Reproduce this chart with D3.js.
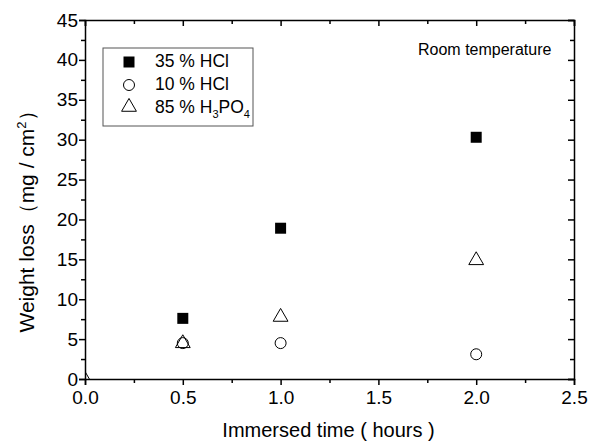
<!DOCTYPE html>
<meta charset="utf-8">
<style>
body { margin: 0; background: #fff; font-family: "Liberation Sans", Arial, sans-serif; }
.axis path, .axis line { stroke: #000; stroke-width: 1.5; fill: none; }
.axis text { font-size: 19px; fill: #000; font-family: "Liberation Sans", Arial, sans-serif; }
</style>
<body>
<svg width="591" height="441"></svg>
<script src="https://d3js.org/d3.v7.min.js"></script>
<script>
// data
var times = [0.5, 1.0, 2.0];
var hcl35 = [7.6, 18.9, 30.3];
var hcl10 = [4.5, 4.5, 3.1];
var h3po4 = [4.6, 7.9, 15.0];
var xTicks = [0, 0.5, 1.0, 1.5, 2.0, 2.5];
var yTicks = [0, 5, 10, 15, 20, 25, 30, 35, 40, 45];

var svg = d3.select("svg"),
    margin = {top: 20, right: 17, bottom: 62, left: 85},
    width = +svg.attr("width") - margin.left - margin.right,
    height = +svg.attr("height") - margin.top - margin.bottom,
    g = svg.append("g").attr("transform", "translate(" + margin.left + "," + margin.top + ")");

var x = d3.scaleLinear().domain([0, 2.5]).range([0, width]);
var y = d3.scaleLinear().domain([0, 45]).range([height, 0]);

svg.append("defs").append("clipPath").attr("id", "clip")
    .append("rect").attr("width", width).attr("height", height);

var minorX = d3.range(0.25, 2.5, 0.5);
var minorY = d3.range(2.5, 45, 5);

// bottom axis (outward ticks)
g.append("g").attr("class", "axis")
    .attr("transform", "translate(0," + height + ")")
    .call(d3.axisBottom(x).tickValues(xTicks).tickFormat(d3.format(".1f")).tickSizeOuter(0).tickSize(6).tickPadding(6));
g.append("g").attr("class", "axis")
    .attr("transform", "translate(0," + height + ")")
    .call(d3.axisBottom(x).tickValues(minorX).tickFormat("").tickSizeOuter(0).tickSize(4))
    .select(".domain").remove();

// left axis
g.append("g").attr("class", "axis")
    .call(d3.axisLeft(y).tickValues(yTicks).tickSizeOuter(0).tickSize(6).tickPadding(1));
g.append("g").attr("class", "axis")
    .call(d3.axisLeft(y).tickValues(minorY).tickFormat("").tickSizeOuter(0).tickSize(4))
    .select(".domain").remove();

// top and right mirror axes, inward ticks
g.append("g").attr("class", "axis")
    .call(d3.axisTop(x).tickValues(xTicks).tickFormat("").tickSizeOuter(0).tickSize(-6));
g.append("g").attr("class", "axis")
    .call(d3.axisTop(x).tickValues(minorX).tickFormat("").tickSizeOuter(0).tickSize(-4))
    .select(".domain").remove();
g.append("g").attr("class", "axis")
    .attr("transform", "translate(" + width + ",0)")
    .call(d3.axisRight(y).tickValues(yTicks).tickFormat("").tickSizeOuter(0).tickSize(-6));
g.append("g").attr("class", "axis")
    .attr("transform", "translate(" + width + ",0)")
    .call(d3.axisRight(y).tickValues(minorY).tickFormat("").tickSizeOuter(0).tickSize(-4))
    .select(".domain").remove();

// markers
var pts = g.append("g").attr("clip-path", "url(#clip)");
var sq = d3.symbol().type(d3.symbolSquare).size(121);
var tri = d3.symbol().type(d3.symbolTriangle).size(95);

// H3PO4 also has a point at the origin (mostly clipped)
pts.selectAll(".tri")
    .data([[0, 0]].concat(times.map(function(t, i) { return [t, h3po4[i]]; })))
    .enter().append("path")
    .attr("d", tri)
    .attr("transform", function(d) { return "translate(" + x(d[0]) + "," + (y(d[1]) + 1) + ")"; })
    .attr("fill", "none").attr("stroke", "#000").attr("stroke-width", 1);

pts.selectAll(".circ")
    .data(times.map(function(t, i) { return [t, hcl10[i]]; }))
    .enter().append("circle")
    .attr("cx", function(d) { return x(d[0]); })
    .attr("cy", function(d) { return y(d[1]); })
    .attr("r", 5.5)
    .attr("fill", "none").attr("stroke", "#000").attr("stroke-width", 1);

pts.selectAll(".sq")
    .data(times.map(function(t, i) { return [t, hcl35[i]]; }))
    .enter().append("path")
    .attr("d", sq)
    .attr("transform", function(d) { return "translate(" + x(d[0]) + "," + y(d[1]) + ")"; })
    .attr("fill", "#000");

// legend
var leg = svg.append("g").attr("transform", "translate(103,48)");
leg.append("rect").attr("width", 150).attr("height", 78)
    .attr("fill", "none").attr("stroke", "#555").attr("stroke-width", 1);
leg.append("path").attr("d", sq).attr("transform", "translate(26,14)").attr("fill", "#000");
leg.append("circle").attr("cx", 26).attr("cy", 37).attr("r", 5.5)
    .attr("fill", "none").attr("stroke", "#000");
leg.append("path").attr("d", tri).attr("transform", "translate(26,59)")
    .attr("fill", "none").attr("stroke", "#000");
var lt = [["35 % HCl", 19], ["10 % HCl", 42]];
lt.forEach(function(d) {
    leg.append("text").attr("x", 52).attr("y", d[1]).attr("font-size", 17.5).text(d[0]);
});
var t3 = leg.append("text").attr("x", 52).attr("y", 65).attr("font-size", 17.5);
t3.append("tspan").text("85 % H");
t3.append("tspan").attr("font-size", 11).attr("dy", 5).text("3");
t3.append("tspan").attr("dy", -5).text("PO");
t3.append("tspan").attr("font-size", 11).attr("dy", 5).text("4");

svg.append("text").attr("x", 418).attr("y", 55).attr("font-size", 16)
    .text("Room temperature");

// axis titles
svg.append("text").attr("x", margin.left + width / 2 - 1).attr("y", 437)
    .attr("text-anchor", "middle").attr("font-size", 20).text("Immersed time ( hours )");
var yt = svg.append("text").attr("transform", "translate(34," + (margin.top + height / 2 + 17) + ") rotate(-90)")
    .attr("text-anchor", "middle").attr("font-size", 21);
yt.append("tspan").text("Weight loss（mg / cm");
yt.append("tspan").attr("font-size", 13).attr("dy", -8).text("2");
yt.append("tspan").attr("dy", 8).text("）");
</script>
